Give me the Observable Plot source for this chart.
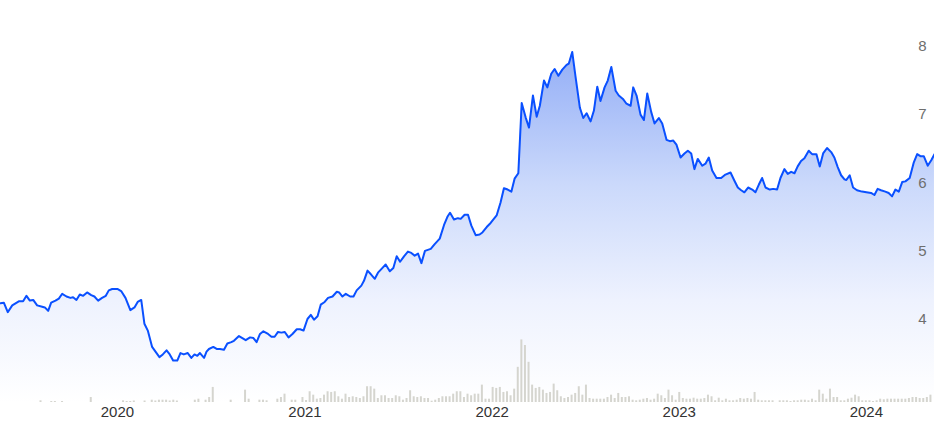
<!DOCTYPE html>
<html><head><meta charset="utf-8">
<script src="https://cdn.jsdelivr.net/npm/d3@7"></script>
<script src="https://cdn.jsdelivr.net/npm/@observablehq/plot@0.6"></script>
<style>
html,body{margin:0;padding:0;background:#fff;}
#chart{position:relative;width:934px;height:424px;overflow:hidden;}
#chart svg{position:absolute;left:0;top:0;}
</style></head><body><div id="chart"></div>
<script>
// Weekly closing price; dates as decimal years
const priceT = [
2019.375,2019.393,2019.414,2019.438,2019.473,2019.496,2019.514,2019.532,2019.550,2019.571,
2019.598,2019.612,2019.630,2019.646,2019.669,2019.687,2019.705,2019.728,2019.749,2019.763,
2019.781,2019.799,2019.817,2019.838,2019.860,2019.877,2019.897,2019.918,2019.938,2019.954,
2019.972,2020.002,2020.020,2020.043,2020.069,2020.091,2020.108,2020.127,2020.144,2020.162,
2020.185,2020.203,2020.224,2020.242,2020.262,2020.279,2020.297,2020.319,2020.336,2020.354,
2020.375,2020.394,2020.411,2020.426,2020.440,2020.462,2020.475,2020.488,2020.511,2020.529,
2020.546,2020.568,2020.586,2020.607,2020.621,2020.648,2020.684,2020.707,2020.725,2020.742,
2020.760,2020.778,2020.803,2020.821,2020.838,2020.856,2020.874,2020.892,2020.912,2020.933,
2020.956,2020.974,2020.992,2021.013,2021.031,2021.048,2021.067,2021.084,2021.105,2021.123,
2021.147,2021.170,2021.182,2021.200,2021.218,2021.241,2021.259,2021.276,2021.301,2021.315,
2021.334,2021.351,2021.373,2021.390,2021.414,2021.431,2021.453,2021.472,2021.490,2021.508,
2021.529,2021.550,2021.568,2021.586,2021.604,2021.622,2021.641,2021.672,2021.693,2021.720,
2021.743,2021.761,2021.775,2021.796,2021.817,2021.832,2021.853,2021.871,2021.889,2021.912,
2021.933,2021.948,2021.971,2021.992,2022.024,2022.045,2022.063,2022.083,2022.103,2022.120,
2022.140,2022.158,2022.179,2022.197,2022.218,2022.238,2022.255,2022.277,2022.295,2022.316,
2022.334,2022.354,2022.375,2022.398,2022.410,2022.428,2022.446,2022.469,2022.487,2022.505,
2022.526,2022.544,2022.562,2022.579,2022.601,2022.618,2022.637,2022.660,2022.677,2022.699,
2022.718,2022.740,2022.754,2022.772,2022.793,2022.811,2022.829,2022.850,2022.868,2022.891,
2022.909,2022.932,2022.950,2022.968,2022.985,2023.007,2023.028,2023.046,2023.064,2023.081,
2023.099,2023.123,2023.140,2023.158,2023.176,2023.199,2023.224,2023.247,2023.274,2023.295,
2023.313,2023.331,2023.348,2023.368,2023.390,2023.407,2023.425,2023.443,2023.461,2023.484,
2023.502,2023.523,2023.541,2023.562,2023.580,2023.598,2023.616,2023.633,2023.651,2023.669,
2023.692,2023.710,2023.733,2023.751,2023.769,2023.790,2023.812,2023.829,2023.847,2023.865,
2023.883,2023.893,2023.911,2023.929,2023.950,2023.977,2024.000,2024.025,2024.043,2024.060,
2024.078,2024.101,2024.119,2024.137,2024.155,2024.173,2024.191,2024.208,2024.231,2024.253,
2024.271,2024.288,2024.306,2024.327,2024.346,2024.363
];
const priceV = [
4.23,4.24,4.10,4.20,4.26,4.26,4.34,4.27,4.28,4.20,
4.18,4.17,4.12,4.24,4.27,4.30,4.37,4.33,4.31,4.32,
4.28,4.36,4.34,4.39,4.35,4.33,4.27,4.31,4.34,4.42,
4.44,4.44,4.41,4.31,4.13,4.17,4.25,4.28,3.93,3.83,
3.59,3.52,3.44,3.48,3.54,3.48,3.39,3.39,3.50,3.48,
3.50,3.43,3.48,3.46,3.50,3.43,3.52,3.56,3.59,3.56,
3.56,3.55,3.64,3.66,3.68,3.75,3.69,3.73,3.72,3.66,
3.78,3.82,3.78,3.74,3.74,3.81,3.80,3.81,3.73,3.78,
3.85,3.85,3.83,4.00,4.06,3.99,4.04,4.21,4.25,4.31,
4.33,4.40,4.39,4.33,4.37,4.33,4.33,4.42,4.49,4.56,
4.71,4.66,4.59,4.68,4.75,4.80,4.70,4.75,4.92,4.84,
4.92,4.99,4.97,4.93,4.96,4.82,5.00,5.03,5.10,5.18,
5.38,5.50,5.56,5.46,5.48,5.47,5.53,5.53,5.37,5.23,
5.24,5.27,5.35,5.41,5.52,5.71,5.92,5.90,5.87,6.06,
6.14,7.17,6.96,6.81,7.28,6.97,7.13,7.50,7.40,7.60,
7.67,7.57,7.66,7.73,7.75,7.92,7.55,7.10,6.95,7.02,
6.90,7.06,7.41,7.20,7.40,7.50,7.70,7.35,7.28,7.23,
7.16,7.13,7.40,7.28,7.00,6.92,7.31,7.04,6.87,6.95,
6.87,6.63,6.61,6.62,6.56,6.37,6.43,6.47,6.43,6.20,
6.35,6.25,6.28,6.37,6.18,6.07,6.07,6.12,6.15,6.03,
5.93,5.89,5.86,5.93,5.90,5.86,5.97,6.07,5.93,5.90,
5.91,5.90,6.07,6.20,6.13,6.16,6.14,6.24,6.32,6.36,
6.47,6.42,6.42,6.24,6.43,6.51,6.45,6.37,6.23,6.11,
6.05,6.04,6.11,5.93,5.89,5.87,5.86,5.85,5.82,5.91,
5.89,5.87,5.85,5.80,5.90,5.87,6.01,6.02,6.07,6.30,
6.42,6.39,6.39,6.25,6.33,6.42
];
// Weekly trading volume (relative units), one bar per week from volumeStart
const volumeStart = "2019-05-19";
const volume = [
0,0,0,0,0,0,0,0,0,0,
0,1.7,0,0,1,1,0,1,0,0,
0,0,0,0,0,5,0,0,0,0,
0,0,0,0,1.7,1,1,1.5,0,0,
1.5,0,2.3,1.5,2.3,2.3,2.3,1.5,2.3,1.5,
0,0,0,0,2.3,3.3,0,2.3,5,15,
0,0,0,0,2.3,0,0,0,12.3,3.3,
0,0,2.3,2.3,1.7,0,0,3.3,5,8.3,
0,2.3,2.3,0,5,2,10.7,7.3,3.3,4,
7.3,10.7,10,10.7,5.7,3.3,8.3,5,5.7,5,
4,5.7,15.7,15.7,13.3,4,6.7,6.7,4,4,
6.7,5.7,2.3,4,11.7,5.7,5,5.7,4,4,
1.3,2.3,4,5.7,5.7,5.7,8.3,10.7,10.7,5,
8.3,6.7,8.3,8.3,17.3,3.3,3.3,15,14,15,
10,10.7,6.7,13.3,35,62.3,56.7,40,17.3,14,
15,12.3,9,10,18.3,11.7,5.7,4,5,7.3,
9,15.7,7.3,17.3,4,3.3,3.3,3.3,3.3,5,
7.3,4,9,5,5,5.7,2.3,1.7,2.3,3.3,
4,2.3,3.3,8.3,6.7,4,12.3,6.7,2.3,10,
4,3.3,3.3,4.3,3.3,3.3,4,7.3,5.7,1.7,
4.3,1.7,3.3,1.7,1.7,2.3,4,3.3,4,3.3,
10,2.3,1.7,1.7,1.7,1.7,0,1.7,1.7,1.7,
1,1.7,1.7,2.3,2.3,1.7,3.3,1.7,12.3,8.3,
3.3,13.3,5,5,1.7,1.7,3.3,4.3,7.3,5.7,
1.7,1.7,1.7,1,1.7,3.3,2.7,3.3,3.3,3.3,
3.3,3.3,3.3,4,5,5,4,4,5,7.3
];
const yTicks = [4, 5, 6, 7, 8];
const xTickYears = [2020, 2021, 2022, 2023, 2024];

function tToDate(t) {
  const y = Math.floor(t);
  const a = Date.UTC(y, 0, 1), b = Date.UTC(y + 1, 0, 1);
  return new Date(a + (t - y) * (b - a));
}
const prices = priceT.map((t, i) => ({date: tToDate(t), price: priceV[i]}));
const vols = volume.map((v, i) => ({date: new Date(Date.parse(volumeStart) + i * 7 * 864e5), volume: v}));

const W = 934, H = 424, MB = 22;
const xDomain = [tToDate(2019.3752), tToDate(2024.3632)];
const yDomain = [2.7743, 8.6752];
const font = '"Liberation Sans", Arial, sans-serif';

const gradientDefs = () => {
  const d = d3.create("svg:defs");
  const g = d.append("linearGradient").attr("id", "areaGrad")
    .attr("gradientUnits", "userSpaceOnUse")
    .attr("x1", 0).attr("x2", 0).attr("y1", 40).attr("y2", H - MB);
  [[0, "#8eaaf6"], [0.4, "#cbd9fb"], [0.72, "#eef2fe"], [1, "#ffffff"]]
    .forEach(([o, c]) => g.append("stop").attr("offset", o).attr("stop-color", c));
  return d.node();
};

const pricePlot = Plot.plot({
  width: W, height: H,
  marginTop: 0, marginBottom: MB, marginLeft: 0, marginRight: 0,
  style: {fontFamily: font, fontSize: "15px", background: "transparent", overflow: "visible"},
  x: {type: "utc", domain: xDomain},
  y: {domain: yDomain},
  marks: [
    gradientDefs,
    Plot.areaY(prices, {x: "date", y1: yDomain[0], y2: "price", fill: "url(#areaGrad)"}),
    Plot.lineY(prices, {x: "date", y: "price", stroke: "#0a50ff", strokeWidth: 2}),
    Plot.axisY({ticks: yTicks, anchor: "right", tickSize: 0, tickPadding: 0, dx: -8,
      textAnchor: "end", fill: "#6e6e6e", label: null, tickFormat: d => String(d)}),
    Plot.axisX({ticks: xTickYears.map(y => new Date(Date.UTC(y, 0, 1))), anchor: "bottom",
      tickSize: 0, tickPadding: 4, tickFormat: d => String(d.getUTCFullYear()), fill: "#333", label: null})
  ]
});

const volumePlot = Plot.plot({
  width: W, height: H,
  marginTop: 0, marginBottom: MB, marginLeft: 0, marginRight: 0,
  style: {background: "transparent"},
  x: {type: "utc", domain: xDomain, axis: null},
  y: {domain: [0, 400], axis: null},
  marks: [
    Plot.ruleX(vols, {x: "date", y1: 0, y2: "volume", stroke: "#d5d5cf", strokeWidth: 2})
  ]
});

const chart = document.getElementById("chart");
chart.appendChild(pricePlot);
chart.appendChild(volumePlot);
</script></body></html>
